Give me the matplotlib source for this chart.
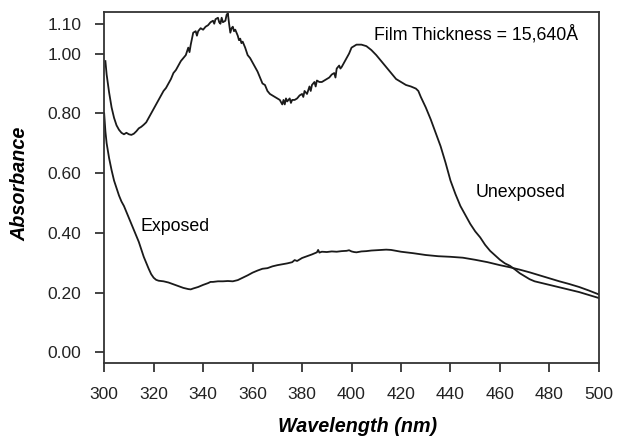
import matplotlib
matplotlib.use('Agg')
import matplotlib.pyplot as plt
import numpy as np

plt.rcParams['font.family'] = ['Liberation Sans', 'DejaVu Sans']

# unexposed film
unexp_wl = [300.5, 301, 302, 303, 304, 305, 306, 307, 308, 309, 310, 311, 312, 313, 314, 315, 316, 317, 318, 319,
            320, 321, 322, 323, 324, 325, 326, 327, 328, 329, 330, 331, 332, 333, 334, 334.5, 335, 336, 337, 337.5,
            338, 339, 340, 341, 342, 343, 344, 344.5, 345, 346, 346.5, 347, 347.5, 348, 349, 349.5, 350, 350.5, 351, 351.5,
            352, 352.5, 353, 354, 354.5, 355, 355.5, 356, 357, 358, 359, 360, 361, 362, 363, 364, 365, 366, 367, 368,
            369, 370, 371, 372, 372.5, 373, 373.5, 374, 375, 375.5, 376, 377, 378, 379, 380, 380.5, 381, 382, 383, 383.5,
            384, 385, 385.5, 386, 387, 388, 389, 390, 391, 392, 393, 393.5, 394, 395, 395.5, 396, 397, 398, 399, 400,
            401, 402, 404, 406, 408, 410, 412, 414, 416, 418, 420, 422, 424, 426, 427, 428, 430, 432, 434, 436,
            438, 440, 442, 444, 446, 448, 450, 452, 454, 456, 458, 460, 462, 464, 466, 468, 470, 472, 474, 476,
            478, 480, 484, 488, 492, 496, 500]
unexp_abs = [0.975, 0.93, 0.87, 0.82, 0.785, 0.76, 0.745, 0.735, 0.73, 0.735, 0.73, 0.728, 0.732, 0.74, 0.75, 0.755, 0.762, 0.77, 0.785, 0.80,
             0.815, 0.83, 0.845, 0.86, 0.875, 0.885, 0.90, 0.915, 0.935, 0.945, 0.96, 0.975, 0.985, 0.995, 1.02, 1.005, 1.03, 1.07, 1.075, 1.06,
             1.075, 1.085, 1.08, 1.09, 1.095, 1.105, 1.11, 1.10, 1.115, 1.12, 1.105, 1.10, 1.12, 1.105, 1.11, 1.13, 1.135, 1.10, 1.07, 1.085,
             1.09, 1.075, 1.08, 1.06, 1.045, 1.05, 1.035, 1.04, 1.02, 0.995, 0.985, 0.97, 0.955, 0.94, 0.92, 0.90, 0.895, 0.875, 0.865, 0.86,
             0.855, 0.85, 0.845, 0.83, 0.845, 0.83, 0.85, 0.84, 0.85, 0.835, 0.845, 0.845, 0.85, 0.86, 0.865, 0.855, 0.875, 0.865, 0.89, 0.875,
             0.895, 0.905, 0.89, 0.91, 0.905, 0.905, 0.91, 0.915, 0.92, 0.93, 0.935, 0.92, 0.95, 0.96, 0.95, 0.955, 0.97, 0.985, 1.0, 1.02,
             1.025, 1.03, 1.03, 1.025, 1.012, 0.995, 0.975, 0.955, 0.935, 0.915, 0.905, 0.895, 0.89, 0.883, 0.875, 0.855, 0.82, 0.78, 0.735, 0.69,
             0.635, 0.575, 0.53, 0.49, 0.46, 0.43, 0.405, 0.385, 0.36, 0.34, 0.325, 0.31, 0.298, 0.29, 0.278, 0.265, 0.255, 0.245, 0.238, 0.234,
             0.23, 0.226, 0.218, 0.21, 0.202, 0.192, 0.182]

# exposed film
exp_wl = [300, 300.5, 301, 302, 303, 304, 305, 306, 307, 308, 309, 310, 311, 312, 313, 314, 315, 316, 317, 318,
          319, 320, 321, 322, 324, 326, 328, 330, 332, 334, 335, 336, 338, 340, 342, 343, 344, 346, 348, 350,
          352, 354, 356, 358, 360, 362, 364, 366, 368, 370, 372, 374, 376, 377, 378, 380, 382, 384, 386, 386.5,
          387, 388, 390, 392, 394, 396, 398, 399, 400, 401, 402, 404, 406, 408, 410, 412, 414, 416, 418, 420,
          425, 430, 435, 440, 445, 450, 455, 460, 464, 468, 472, 476, 480, 484, 488, 492, 496, 500]
exp_abs = [0.80, 0.74, 0.70, 0.65, 0.61, 0.575, 0.55, 0.525, 0.505, 0.49, 0.47, 0.45, 0.43, 0.41, 0.39, 0.37, 0.345, 0.32, 0.30, 0.28,
           0.262, 0.25, 0.243, 0.24, 0.238, 0.234, 0.228, 0.222, 0.216, 0.212, 0.211, 0.214, 0.219, 0.226, 0.232, 0.236, 0.236, 0.238, 0.238, 0.239,
           0.238, 0.242, 0.25, 0.258, 0.267, 0.274, 0.28, 0.282, 0.288, 0.292, 0.295, 0.298, 0.302, 0.309, 0.306, 0.316, 0.322, 0.328, 0.335, 0.343,
           0.334, 0.337, 0.336, 0.338, 0.337, 0.339, 0.34, 0.342, 0.338, 0.336, 0.335, 0.338, 0.339, 0.341, 0.342, 0.343, 0.344, 0.343, 0.34, 0.337,
           0.332, 0.326, 0.322, 0.32, 0.317, 0.31, 0.302, 0.292, 0.285, 0.277, 0.268, 0.258, 0.248, 0.238, 0.229, 0.219, 0.207, 0.194]

x_ticks = [300, 320, 340, 360, 380, 400, 420, 440, 460, 480, 500]
y_ticks = [0.0, 0.2, 0.4, 0.6, 0.8, 1.0, 1.1]
y_tick_labels = ['0.00', '0.20', '0.40', '0.60', '0.80', '1.00', '1.10']

fig = plt.figure(figsize=(6.2, 4.36), dpi=100)
ax = fig.add_axes([0.168, 0.167, 0.798, 0.806])

line_col = '#1a1a1a'
ax.plot(unexp_wl, unexp_abs, color=line_col, lw=1.3)
ax.plot(exp_wl, exp_abs, color=line_col, lw=1.3)

ax.set_xlim(300, 500)
ax.set_ylim(-0.036, 1.14)
ax.set_xticks(x_ticks)
ax.set_yticks(y_ticks)
ax.set_yticklabels(y_tick_labels)
ax.tick_params(direction='out', length=6.5, width=1.2, labelsize=12.5, colors='#222222')
ax.tick_params(axis='x', pad=10.5)
ax.tick_params(axis='y', pad=10)

for sp in ax.spines.values():
    sp.set_linewidth(1.3)
    sp.set_color('#333333')

ax.set_xlabel('Wavelength (nm)', fontsize=14.2, fontweight='bold', style='italic')
ax.set_ylabel('Absorbance', fontsize=14.2, fontweight='bold', style='italic')
ax.xaxis.set_label_coords(0.513, -0.18)
ax.xaxis.label.set_va('center')
ax.yaxis.set_label_coords(-0.170, 0.51)
ax.yaxis.label.set_va('center')

ax.text(409, 1.065, 'Film Thickness = 15,640Å', fontsize=12.8, va='center', ha='left')
ax.text(450, 0.535, 'Unexposed', fontsize=12.8, va='center', ha='left')
ax.text(314.5, 0.42, 'Exposed', fontsize=12.8, va='center', ha='left')

fig.savefig('out.png', dpi=100)
